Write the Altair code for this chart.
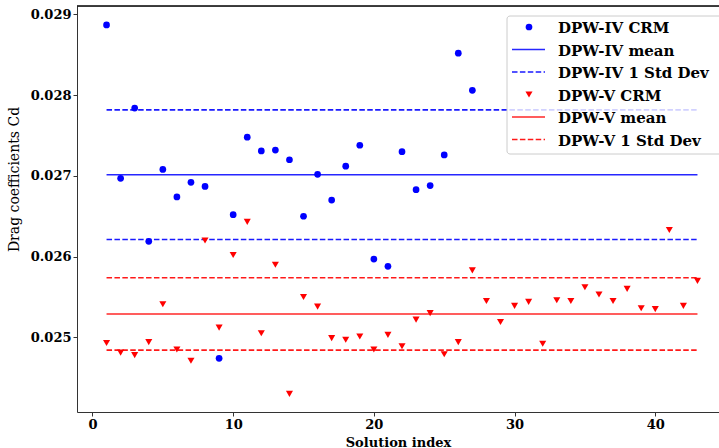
import altair as alt
import pandas as pd

# ---- data ----
dpw4_cd = [0.02887, 0.02697, 0.02784, 0.02619, 0.02708, 0.02674, 0.02692, 0.02687,
           0.02474, 0.02652, 0.02748, 0.02731, 0.02732, 0.02720, 0.02650, 0.02702,
           0.02670, 0.02712, 0.02738, 0.02597, 0.02588, 0.02730, 0.02683, 0.02688,
           0.02726, 0.02852, 0.02806]
dpw5_cd = [0.02493, 0.02481, 0.02478, 0.02494, 0.02541, 0.02485, 0.02471, 0.02620,
           0.02512, 0.02602, 0.02643, 0.02505, 0.02590, 0.02430, 0.02550, 0.02538,
           0.02499, 0.02497, 0.02501, 0.02485, 0.02503, 0.02489, 0.02522, 0.02530,
           0.02479, 0.02494, 0.02583, 0.02545, 0.02519, 0.02539, 0.02544, 0.02492,
           0.02546, 0.02545, 0.02562, 0.02553, 0.02545, 0.02560, 0.02536, 0.02535,
           0.02633, 0.02539, 0.02570]
dpw4_mean, dpw4_std = 0.027015, 0.000803
dpw5_mean, dpw5_std = 0.025290, 0.000448
line_x_start, line_x_end = 1, 43

series_names = ["DPW-IV CRM", "DPW-V CRM"]
series_colors = ["#0000ff", "#ff0000"]
legend_labels = ["DPW-IV CRM", "DPW-IV mean", "DPW-IV 1 Std Dev",
                 "DPW-V CRM", "DPW-V mean", "DPW-V 1 Std Dev"]

x_ticks = [0, 10, 20, 30, 40]
y_ticks = [0.025, 0.026, 0.027, 0.028, 0.029]

# ---- tables ----
pts = pd.DataFrame({
    "idx": list(range(1, len(dpw4_cd) + 1)) + list(range(1, len(dpw5_cd) + 1)),
    "cd": dpw4_cd + dpw5_cd,
    "series": [series_names[0]] * len(dpw4_cd) + [series_names[1]] * len(dpw5_cd),
})
lines = pd.DataFrame({
    "x1": [line_x_start] * 6,
    "x2": [line_x_end] * 6,
    "y": [dpw4_mean, dpw4_mean + dpw4_std, dpw4_mean - dpw4_std,
          dpw5_mean, dpw5_mean + dpw5_std, dpw5_mean - dpw5_std],
    "series": [series_names[0]] * 3 + [series_names[1]] * 3,
    "kind": ["mean", "std", "std", "mean", "std", "std"],
})

PW, PH = 642, 406
FONT = "DejaVu Serif"

xscale = alt.Scale(domain=[-1.1, 44.53], nice=False, zero=False)
yscale = alt.Scale(domain=[0.024075, 0.029105], nice=False, zero=False)
cscale = alt.Scale(domain=series_names, range=series_colors)

xenc = alt.X("idx:Q", scale=xscale, axis=alt.Axis(
    values=x_ticks, format="d", grid=False, title="Solution index",
    titleFont=FONT, titleFontSize=13, titleFontWeight="bold", titleColor="black",
    titleY=34, titleBaseline="alphabetic",
    labelFont=FONT, labelFontSize=13, labelFontWeight="bold", labelColor="black",
    labelPadding=2, tickSize=4, tickColor="#333", domainColor="#333"))
yenc = alt.Y("cd:Q", scale=yscale, axis=alt.Axis(
    values=y_ticks, format=".3f", grid=False, title="Drag coefficients Cd",
    titleFont=FONT, titleFontSize=14, titleFontWeight="normal", titleColor="black",
    titleX=-63, titleY=173, titleAngle=270, titleAlign="center", titleBaseline="middle",
    labelFont=FONT, labelFontSize=13, labelFontWeight="bold", labelColor="black",
    labelPadding=2, tickSize=4, tickColor="#333", domainColor="#333"))

base_pts = alt.Chart(pts)
blue_pts = base_pts.transform_filter(alt.datum.series == series_names[0]).mark_point(
    shape="circle", filled=True, size=45, opacity=1).encode(
    x=xenc, y=yenc, color=alt.Color("series:N", scale=cscale, legend=None))
red_pts = base_pts.transform_filter(alt.datum.series == series_names[1]).mark_point(
    shape="triangle-down", filled=True, size=50, opacity=1).encode(
    x="idx:Q", y="cd:Q", color=alt.Color("series:N", scale=cscale, legend=None))

base_lines = alt.Chart(lines)
mean_lines = base_lines.transform_filter(alt.datum.kind == "mean").mark_rule(
    strokeWidth=1.6, opacity=0.85).encode(
    x=alt.X("x1:Q", scale=xscale), x2="x2:Q", y=alt.Y("y:Q", scale=yscale),
    color=alt.Color("series:N", scale=cscale, legend=None))
std_lines = base_lines.transform_filter(alt.datum.kind == "std").mark_rule(
    strokeWidth=1.6, opacity=0.9, strokeDash=[5.5, 2.4]).encode(
    x=alt.X("x1:Q", scale=xscale), x2="x2:Q", y=alt.Y("y:Q", scale=yscale),
    color=alt.Color("series:N", scale=cscale, legend=None))

one = alt.Data(values=[{"a": 1}])
top_spine = alt.Chart(one).mark_rule(color="black", strokeWidth=1.5).encode(
    x=alt.value(0), x2=alt.value(PW), y=alt.value(0))

# ---- legend (decoration) ----
leg_x0, leg_top, leg_bot = 430, 10, 148
row_y0, row_dy = 21, 22.5
sym_x, line_x1, line_x2, text_x = 452, 435, 468, 481

legend_layers = [
    alt.Chart(one).mark_rect(fill="white", fillOpacity=0.8, stroke="#cccccc",
                             strokeWidth=1, cornerRadius=3).encode(
        x=alt.value(leg_x0), x2=alt.value(PW + 20),
        y=alt.value(leg_top), y2=alt.value(leg_bot))
]
for i, lab in enumerate(legend_labels):
    yy = row_y0 + i * row_dy
    col = series_colors[0] if i < 3 else series_colors[1]
    kind = i % 3
    if kind == 0:
        legend_layers.append(alt.Chart(one).mark_point(
            shape="circle" if i < 3 else "triangle-down", filled=True,
            size=45 if i < 3 else 50, color=col, opacity=1).encode(
            x=alt.value(sym_x), y=alt.value(yy)))
    elif kind == 1:
        legend_layers.append(alt.Chart(one).mark_rule(
            color=col, strokeWidth=1.6, opacity=0.85).encode(
            x=alt.value(line_x1), x2=alt.value(line_x2), y=alt.value(yy)))
    else:
        legend_layers.append(alt.Chart(one).mark_rule(
            color=col, strokeWidth=1.6, opacity=0.9, strokeDash=[5.5, 2.4]).encode(
            x=alt.value(line_x1), x2=alt.value(line_x2), y=alt.value(yy)))
    legend_layers.append(alt.Chart(one).mark_text(
        text=lab, font=FONT, fontSize=15, fontWeight="bold", color="black",
        align="left", baseline="middle").encode(
        x=alt.value(text_x), y=alt.value(yy + 1)))

chart = alt.layer(std_lines, mean_lines, blue_pts, red_pts, top_spine,
                  *legend_layers).properties(
    width=PW, height=PH,
    autosize=alt.AutoSizeParams(type="none"),
    padding={"left": 77, "top": 6, "right": 0, "bottom": 36},
).configure_view(stroke=None).configure(background="white")

chart.save("out.html", embed_options={"renderer": "svg", "actions": False})
